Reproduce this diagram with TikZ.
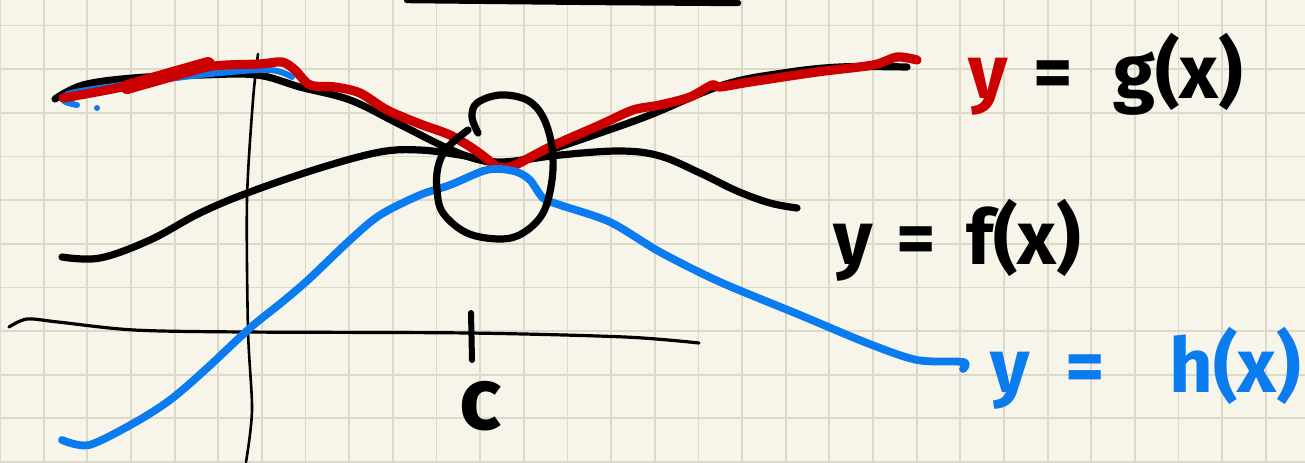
\documentclass[tikz,border=0pt]{standalone}
\usepackage{fontspec}
\setmainfont{Fira Sans}
\definecolor{paper}{HTML}{F7F5E9}
\definecolor{gridc}{HTML}{DCD9C9}
\definecolor{penred}{HTML}{CC0000}
\definecolor{penblue}{HTML}{0A7CF0}
\begin{document}
\begin{tikzpicture}[x=0.5pt,y=-0.5pt,line cap=round,line join=round,
  gridline/.style={gridc,line width=0.9pt},
  axisline/.style={black,line width=1.6pt},
  inkblack/.style={black,line width=3.6pt},
  inkred/.style={penred,line width=4.6pt},
  inkblue/.style={penblue,line width=3.9pt},
  lbl/.style={anchor=base west,inner sep=0pt,font=\fontsize{38}{40}\selectfont\bfseries}]
\fill[paper] (0,0) rectangle (1305,462);
\useasboundingbox (0,0) rectangle (1305,462);
\foreach \i in {0,...,29} \draw[gridline] (\i*43.65,0) -- (\i*43.65,462);
\foreach \j in {0,...,10} \draw[gridline] (0,25.5+\j*43.65) -- (1305,25.5+\j*43.65);
% top bar
\draw[black,line width=3.2pt] (407,0) -- (600,2) -- (738,3);
% axes
\draw[axisline] plot[smooth] coordinates {(9,327) (27,319) (58,322) (134,330) (245,332) (469,333) (625,337) (699,343)};
\draw[axisline,line width=1.3pt] plot[smooth] coordinates {(258,54) (253,100) (247,200) (248,330) (252,410) (246,462)};
\draw[black,line width=3pt] (471,313) -- (472,360);
\node[anchor=center,inner sep=0pt,font=\fontsize{44}{46}\selectfont\bfseries] (c) at (481,406) {c};
% f curve
\draw[inkblack] plot[smooth,tension=0.6] coordinates {(62,257) (100,258) (150,240) (200,213) (250,192) (320,168) (380,152) (420,150) (460,155) (500,162) (560,155) (620,151) (660,156) (700,173) (737,191) (770,203) (797,208)};
% black g curve
\draw[inkblack] plot[smooth,tension=0.6] coordinates {(55,99) (83,85) (133,78) (200,75) (257,75) (300,87) (350,100) (397,123) (447,148) (480,160) (510,163) (550,150) (600,133) (650,115) (723,85) (783,73) (840,67) (907,67)};
% blue trace at top left
\draw[penblue,line width=3pt] plot[smooth,tension=0.6] coordinates {(77,105) (64,101) (68,94) (100,88) (160,80) (220,73) (270,70) (292,77)};
\fill[penblue] (97,108) circle (3);
% red g
\draw[inkred] plot[smooth,tension=0.5] coordinates {(63,98) (127,86) (207,67) (260,64) (282,62) (295,70) (310,85) (335,87) (360,93) (387,110) (420,124) (450,135) (475,150) (497,167)};
\draw[inkred] plot[smooth,tension=0.5] coordinates {(497,167) (513,166) (550,147) (600,125) (633,110) (660,105) (690,97) (712,85) (720,87) (750,82) (817,72) (873,65) (897,57) (917,60)};
\draw[penred,line width=7pt] (127,87) -- (208,64);
% blue h
\draw[inkblue] plot[smooth,tension=0.5] coordinates {(62,440) (89,445) (134,423) (170,400) (205,370) (250,328) (281,303) (308,280) (350,240) (380,215) (420,195) (450,185) (483,171) (500,169) (517,172) (530,180) (543,198) (560,205) (610,222) (660,252) (720,282) (800,315) (867,343) (917,360) (963,362) (963,369)};
% circle
\draw[inkblack] plot[smooth,tension=0.6] coordinates {(478,133) (472,117) (477,103) (500,95) (527,100) (543,117) (552,147) (552,180) (543,213) (523,233) (500,239) (467,233) (443,213) (437,190) (438,167) (447,148) (468,130)};
% labels
\node[lbl] (g) at (968,98) {\textcolor{penred}{y}\hspace{13pt}=\hspace{20pt}g(x)};
\node[lbl] (f) at (833,264) {y\hspace{12pt}=\hspace{15pt}f(x)};
\node[lbl,text=penblue] (h) at (990,392) {y\hspace{18pt}=\hspace{32pt}h(x)};
\end{tikzpicture}
\end{document}
